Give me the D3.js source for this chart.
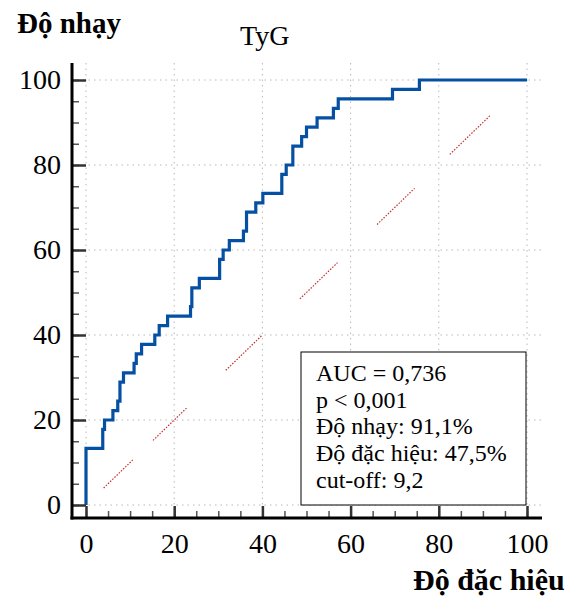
<!DOCTYPE html>
<html><head><meta charset="utf-8">
<script src="https://cdn.jsdelivr.net/npm/d3@7"></script>
<style>
html,body{margin:0;padding:0;background:#fff;}
svg{display:block;}
text{font-family:"Liberation Serif","Times New Roman",serif;fill:#000;}
</style></head>
<body>
<script>
// ---- data ----
const rocFpr = [0, 0, 3.8, 4.2, 6.1, 7.2, 7.7, 8.5, 10.9, 11.4, 12.6, 15.6, 16.6, 18.5, 23.7, 24.0, 25.7, 30.3, 31.1, 32.5, 35.7, 36.4, 38.5, 40.1, 44.4, 45.4, 46.9, 48.9, 50.0, 52.4, 56.1, 57.2, 69.5, 75.6, 100];
const rocTpr = [0, 13.33, 17.78, 20.0, 22.22, 24.44, 28.89, 31.11, 33.33, 35.56, 37.78, 40.0, 42.22, 44.44, 46.67, 51.11, 53.33, 57.78, 60.0, 62.22, 64.44, 68.89, 71.11, 73.33, 77.78, 80.0, 84.44, 86.67, 88.89, 91.11, 93.33, 95.56, 97.78, 100, 100];
const diagStart = [4, 15.2, 31.7, 48.5, 66, 82.5];
const diagEnd   = [10.7, 23.0, 40.0, 57.0, 74.5, 91.6];
const majorTicks = [0, 20, 40, 60, 80, 100];
const minorTicks = d3.range(0, 101, 5);
const legendLines = ["AUC = 0,736", "p < 0,001", "Độ nhạy: 91,1%", "Độ đặc hiệu: 47,5%", "cut-off: 9,2"];
const titleText = "TyG";
const yTitle = "Độ nhạy";
const xTitle = "Độ đặc hiệu";

// ---- chart ----
const W = 571, H = 599;
const svg = d3.select("body").append("svg").attr("width", W).attr("height", H);
const x = d3.scaleLinear().domain([0, 100]).range([86, 527]);
const y = d3.scaleLinear().domain([0, 100]).range([505, 80]);
const axX = 72, axY = 518;

// grid
const grid = svg.append("g").attr("stroke", "#b8b8b8").attr("stroke-width", 1).attr("stroke-dasharray", "1.5,4");
grid.selectAll("line.v").data(majorTicks).join("line")
  .attr("x1", d => x(d)).attr("x2", d => x(d)).attr("y1", 63).attr("y2", axY);
grid.selectAll("line.h").data(majorTicks).join("line")
  .attr("y1", d => y(d)).attr("y2", d => y(d)).attr("x1", axX).attr("x2", 542);

// diagonal reference (dotted, red)
svg.append("g").selectAll("line").data(diagStart).join("line")
  .attr("x1", d => x(d)).attr("y1", d => y(d))
  .attr("x2", (d, i) => x(diagEnd[i])).attr("y2", (d, i) => y(diagEnd[i]))
  .attr("stroke", "#c03030").attr("stroke-width", 1.2).attr("stroke-dasharray", "1.5,1.5");

// ROC curve
const rocPts = rocFpr.map((v, i) => [v, rocTpr[i]]);
svg.append("path").datum(rocPts)
  .attr("fill", "none").attr("stroke", "#0550a2").attr("stroke-width", 3.2)
  .attr("d", d3.line().x(d => x(d[0])).y(d => y(d[1])).curve(d3.curveStepAfter));

// legend box
const lg = svg.append("g");
lg.append("rect").attr("x", 301).attr("y", 352).attr("width", 225).attr("height", 153)
  .attr("fill", "#fff").attr("stroke", "#000").attr("stroke-width", 1);
lg.selectAll("text").data(legendLines).join("text")
  .attr("x", 316).attr("y", (d, i) => 381 + i * 26.7)
  .attr("font-size", 24).text(d => d);

// axes ticks
function clean(g){ g.select(".domain").remove(); }
svg.append("g").attr("transform", `translate(${axX},0)`)
  .call(d3.axisRight(y).tickValues(minorTicks).tickSize(7).tickFormat(""))
  .call(clean).selectAll("line").attr("stroke", "#555").attr("stroke-width", 1.5);
svg.append("g").attr("transform", `translate(${axX},0)`)
  .call(d3.axisRight(y).tickValues(majorTicks).tickSize(14).tickFormat(""))
  .call(clean).selectAll("line").attr("stroke", "#333").attr("stroke-width", 2.5);
svg.append("g").attr("transform", `translate(0,${axY})`)
  .call(d3.axisTop(x).tickValues(minorTicks).tickSize(7).tickFormat(""))
  .call(clean).selectAll("line").attr("stroke", "#555").attr("stroke-width", 1.5);
svg.append("g").attr("transform", `translate(0,${axY})`)
  .call(d3.axisTop(x).tickValues(majorTicks).tickSize(12).tickFormat(""))
  .call(clean).selectAll("line").attr("stroke", "#333").attr("stroke-width", 2.5);

// axis lines
svg.append("line").attr("x1", axX).attr("x2", axX).attr("y1", 63).attr("y2", axY + 1.5)
  .attr("stroke", "#000").attr("stroke-width", 3);
svg.append("line").attr("x1", axX - 1.5).attr("x2", 542).attr("y1", axY).attr("y2", axY)
  .attr("stroke", "#000").attr("stroke-width", 3);

// tick labels
const yl = svg.append("g").attr("transform", `translate(${axX},0)`)
  .call(d3.axisLeft(y).tickValues(majorTicks).tickSize(0).tickPadding(11))
  .call(clean);
yl.selectAll("text").attr("font-size", 28).attr("font-family", "Liberation Serif").attr("fill", "#000");
const xl = svg.append("g").attr("transform", `translate(0,${axY})`)
  .call(d3.axisBottom(x).tickValues(majorTicks).tickSize(0).tickPadding(15))
  .call(clean);
xl.selectAll("text").attr("font-size", 28).attr("font-family", "Liberation Serif").attr("fill", "#000");

// titles
svg.append("text").attr("x", 17).attr("y", 33).attr("font-size", 29).attr("font-weight", "bold").text(yTitle);
svg.append("text").attr("x", 240).attr("y", 45).attr("font-size", 28).text(titleText);
svg.append("text").attr("x", 413).attr("y", 590).attr("font-size", 30).attr("font-weight", "bold").text(xTitle);
</script>
</body></html>
